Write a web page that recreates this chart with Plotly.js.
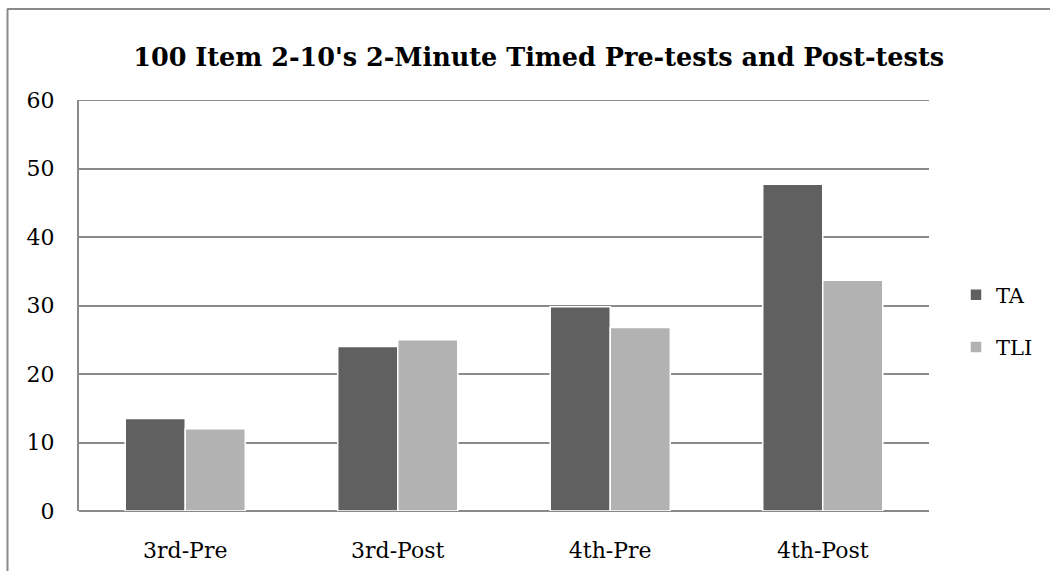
<!DOCTYPE html>
<html>
<head>
<meta charset="utf-8">
<script src="https://cdn.plot.ly/plotly-3.0.1.min.js"></script>
<style>html,body{margin:0;padding:0;background:#fff;}#chart{width:1050px;height:571px;}</style>
</head>
<body>
<div id="chart"></div>
<script>
var categories = ["3rd-Pre", "3rd-Post", "4th-Pre", "4th-Post"];
var seriesNames = ["TA", "TLI"];
var taValues = [13.5, 24, 29.8, 47.7];
var tliValues = [12, 25, 26.8, 33.7];
var yTickValues = [0, 10, 20, 30, 40, 50, 60];

var FONT = "DejaVu Serif, Liberation Serif, serif";
var L = 79, R = 929, T = 100, B = 511, W = 1050, H = 571;
var pw = R - L, ph = B - T;
var GRID = "#8a8a8a";

var traces = [
  {type: "bar", name: seriesNames[0], legendgroup: "g1", x: categories, y: taValues,
   marker: {color: "#606060", line: {color: "#ffffff", width: 1.5}}},
  {type: "bar", name: seriesNames[1], legendgroup: "g2", x: categories, y: tliValues,
   marker: {color: "#b2b2b2", line: {color: "#ffffff", width: 1.5}}}
];

var topTick = yTickValues[yTickValues.length - 1];

var layout = {
  width: W, height: H,
  margin: {l: L, r: W - R, t: T, b: H - B, pad: 0, autoexpand: false},
  paper_bgcolor: "#ffffff", plot_bgcolor: "#ffffff",
  font: {family: FONT, color: "#000000", size: 22},
  title: {text: "<b>100 Item 2-10's 2-Minute Timed Pre-tests and Post-tests</b>",
          font: {family: FONT, size: 25.5, color: "#000000"},
          x: 0.513, xanchor: "center", y: 1 - 57 / H, yanchor: "middle"},
  barmode: "group", bargap: 0.435, bargroupgap: 0.0,
  showlegend: true,
  legend: {x: (956 - L) / pw, xanchor: "left", y: (B - 321) / ph, yanchor: "middle",
           font: {family: FONT, size: 21, color: "#000000"}, traceorder: "grouped",
           itemwidth: 30, tracegroupgap: 22, bgcolor: "rgba(0,0,0,0)"},
  xaxis: {type: "category", showgrid: false, showline: false, ticks: "",
          tickfont: {family: FONT, size: 22}, ticklabelstandoff: 24, zeroline: false},
  yaxis: {range: [0, topTick], tickvals: yTickValues, showgrid: true, gridcolor: GRID, gridwidth: 2,
          zeroline: true, zerolinecolor: GRID, zerolinewidth: 2,
          showline: true, linecolor: GRID, linewidth: 2, ticks: "",
          tickfont: {family: FONT, size: 22}, ticklabelstandoff: 18},
  shapes: [
    {type: "line", xref: "paper", yref: "y", x0: 0, x1: 1, y0: topTick, y1: topTick,
     line: {color: GRID, width: 2}, layer: "below"},
    {type: "line", xref: "paper", yref: "paper", x0: (7 - L) / pw, x1: (1060 - L) / pw,
     y0: (B - 9) / ph, y1: (B - 9) / ph, line: {color: GRID, width: 2}},
    {type: "line", xref: "paper", yref: "paper", x0: (7.5 - L) / pw, x1: (7.5 - L) / pw,
     y0: (B - 9) / ph, y1: (B - 580) / ph, line: {color: GRID, width: 2}}
  ]
};

Plotly.newPlot("chart", traces, layout, {displayModeBar: false, staticPlot: true});
</script>
</body>
</html>
